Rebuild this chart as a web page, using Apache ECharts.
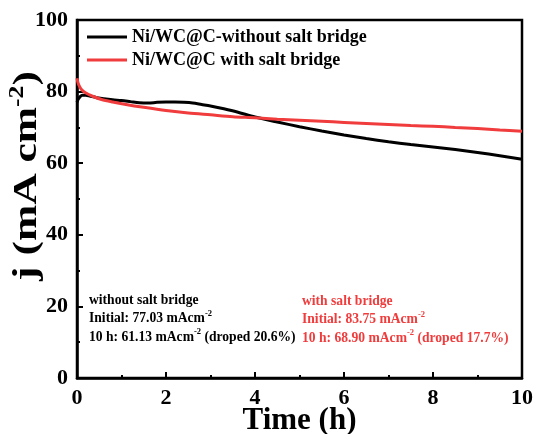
<!DOCTYPE html>
<html>
<head>
<meta charset="utf-8">
<style>
  html, body { margin: 0; padding: 0; background: #fff; }
  #chart { width: 536px; height: 434px; }
</style>
<script src="https://cdn.jsdelivr.net/npm/echarts@6/dist/echarts.min.js"></script>
</head>
<body>
<div id="chart"></div>
<script>
// Chronoamperometry: current density j (mA cm^-2) vs time (h)
const seriesNames = ['Ni/WC@C-without salt bridge', 'Ni/WC@C with salt bridge'];

const timeBlack = [0, 0.03, 0.07, 0.12, 0.2, 0.3, 0.45, 0.6, 0.8, 1.0, 1.2, 1.4, 1.6, 1.8, 2.0, 2.2, 2.4, 2.6, 2.8, 3.0, 3.3, 3.6, 4.0, 4.5, 5.0, 5.5, 6.0, 6.5, 7.0, 7.5, 8.0, 8.5, 9.0, 9.5, 10];
const jBlack    = [77.03, 77.9, 78.6, 79.0, 79.0, 78.7, 78.3, 78.0, 77.7, 77.5, 77.2, 76.9, 76.8, 77.0, 77.1, 77.1, 77.0, 76.8, 76.4, 76.0, 75.2, 74.3, 72.9, 71.5, 70.2, 69.0, 67.9, 66.9, 66.0, 65.2, 64.5, 63.8, 63.0, 62.1, 61.13];

const timeRed = [0, 0.02, 0.05, 0.1, 0.2, 0.35, 0.55, 0.8, 1.1, 1.5, 2.0, 2.5, 3.0, 3.5, 4.0, 4.5, 5.0, 5.5, 6.0, 6.5, 7.0, 7.5, 8.0, 8.5, 9.0, 9.5, 10];
const jRed    = [83.75, 82.6, 81.6, 80.6, 79.6, 78.7, 77.8, 77.1, 76.4, 75.6, 74.7, 74.0, 73.5, 73.0, 72.7, 72.3, 72.0, 71.7, 71.4, 71.1, 70.8, 70.5, 70.3, 70.0, 69.7, 69.3, 68.9];

const xTicks = [0, 2, 4, 6, 8, 10];
const yTicks = [0, 20, 40, 60, 80, 100];

const FONT = '"Liberation Serif", "Times New Roman", serif';
const BLACK = '#000000';
const RED = '#f03c3c';

const pairs = (xs, ys) => xs.map((x, i) => [x, ys[i]]);

// Summary text built from the first and last points of each curve
function summary(label, ys) {
  const init = ys[0];
  const last = ys[ys.length - 1];
  const drop = ((1 - last / init) * 100).toFixed(1);
  return [
    '{b|' + label + '}',
    '{b|Initial: ' + init.toFixed(2) + ' mAcm}{s|-2}',
    '{b|10 h: ' + last.toFixed(2) + ' mAcm}{s|-2}{b| (droped ' + drop + '%)}'
  ].join('\n');
}

function note(text, color, x, y) {
  return {
    type: 'text',
    left: x,
    top: y,
    z: 10,
    style: {
      text: text,
      fill: color,
      rich: {
        b: { fontSize: 13.6, fontWeight: 'bold', fontFamily: FONT, fill: color, lineHeight: 18.5 },
        s: { fontSize: 8.5, fontWeight: 'bold', fontFamily: FONT, fill: color, lineHeight: 9, verticalAlign: 'top' }
      }
    }
  };
}

const chart = echarts.init(document.getElementById('chart'), null, { renderer: 'canvas' });

const axisCommon = {
  axisLine: { show: true, onZero: false, lineStyle: { color: '#000', width: 2.5 } },
  axisTick: { show: true, inside: true, length: 6, lineStyle: { color: '#000', width: 2 } },
  minorTick: { show: true, splitNumber: 2, length: 3, lineStyle: { color: '#000', width: 2 } },
  splitLine: { show: false },
  axisLabel: { color: '#000', fontFamily: FONT, fontWeight: 'bold', fontSize: 22 }
};

chart.setOption({
  animation: false,
  backgroundColor: '#fff',
  grid: {
    left: 77, right: 14, top: 20, bottom: 56,
    outerBoundsMode: 'none',
    containLabel: false,
    show: true, borderColor: '#000', borderWidth: 2.5, backgroundColor: 'transparent'
  },
  legend: {
    data: seriesNames,
    orient: 'vertical',
    left: 82,
    top: 22,
    icon: 'rect',
    itemWidth: 40,
    itemHeight: 3,
    itemGap: 3,
    textStyle: { color: '#000', fontFamily: FONT, fontWeight: 'bold', fontSize: 18, lineHeight: 20 }
  },
  xAxis: Object.assign({}, axisCommon, {
    type: 'value',
    min: xTicks[0],
    max: xTicks[xTicks.length - 1],
    interval: xTicks[1] - xTicks[0],
    axisLabel: Object.assign({}, axisCommon.axisLabel, { margin: 9 }),
    name: 'Time (h)',
    nameLocation: 'middle',
    nameGap: 27,
    nameMoveOverlap: false,
    nameTextStyle: { color: '#000', fontFamily: FONT, fontWeight: 'bold', fontSize: 31 }
  }),
  yAxis: Object.assign({}, axisCommon, {
    type: 'value',
    min: yTicks[0],
    max: yTicks[yTicks.length - 1],
    interval: yTicks[1] - yTicks[0],
    axisLabel: Object.assign({}, axisCommon.axisLabel, { margin: 9 })
  }),
  graphic: [
    {
      type: 'text',
      x: 27,
      y: 176,
      rotation: Math.PI / 2,
      scaleX: 1.28,
      z: 10,
      style: {
        text: '{t|j (mA cm}{s|-2}{t|)}',
        align: 'center',
        verticalAlign: 'middle',
        rich: {
          t: { fontSize: 34, fontWeight: 'bold', fontFamily: FONT, fill: '#000', lineHeight: 38 },
          s: { fontSize: 20, fontWeight: 'bold', fontFamily: FONT, fill: '#000', lineHeight: 20, verticalAlign: 'top' }
        }
      }
    },
    note(summary('without salt bridge', jBlack), BLACK, 89, 293),
    note(summary('with salt bridge', jRed), RED, 302, 294)
  ],
  series: [
    {
      name: seriesNames[0],
      type: 'line',
      data: pairs(timeBlack, jBlack),
      symbol: 'none',
      smooth: 0.3,
      lineStyle: { color: BLACK, width: 3 },
      itemStyle: { color: BLACK },
      z: 3
    },
    {
      name: seriesNames[1],
      type: 'line',
      data: pairs(timeRed, jRed),
      symbol: 'none',
      smooth: 0.3,
      lineStyle: { color: RED, width: 3 },
      itemStyle: { color: RED },
      z: 4
    }
  ]
});
</script>
</body>
</html>
